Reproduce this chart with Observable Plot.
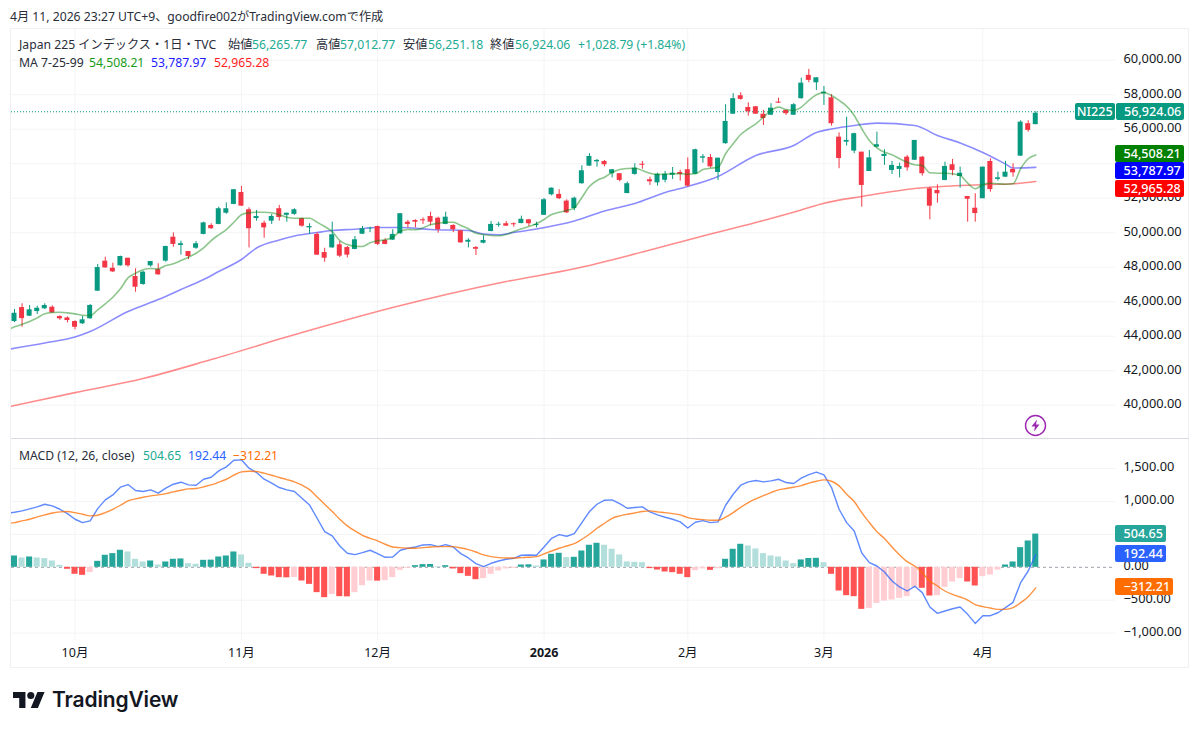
<!DOCTYPE html>
<html lang="ja">
<head>
<meta charset="utf-8">
<script src="https://cdn.jsdelivr.net/npm/d3@7"></script>
<script src="https://cdn.jsdelivr.net/npm/@observablehq/plot@0.6"></script>
<style>
html,body{margin:0;padding:0;background:#fff}
#page{position:relative;width:1200px;height:731px;overflow:hidden;background:#fff;color:#131722;
font-family:"Noto Sans","Noto Sans CJK JP",sans-serif;font-size:12.2px}
#page svg{display:block;overflow:visible}
.abs{position:absolute;white-space:nowrap;line-height:16px}
.tag{position:absolute;color:#fff;font-size:12.6px;line-height:17px;height:17px;text-align:left;padding-left:8.5px;box-sizing:border-box;border-radius:2px;white-space:nowrap;font-weight:500}
</style>
</head>
<body>
<div id="page"></div>
<script>
// ---- Price candles (index 0 = first visible session) ----
const openP = [
44850,45660,45160,45430,45590,45680,45140,45060,44850,44720,
45010,46610,48350,47940,48080,48520,47460,47000,48080,47860,
48350,49740,49260,48910,49100,49900,50420,50480,51130,51640,
52330,51330,50820,50550,50670,51390,51010,51060,50810,50280,
49900,48850,49120,49300,49140,49030,49910,50230,50360,49550,
49570,49940,50610,50710,50750,50940,50840,50480,50420,50110,
49450,49140,49390,50070,50430,50520,50520,50530,50750,50420,
51010,52200,52220,51830,51400,52840,53860,54110,54130,53420,
53420,52270,53380,53970,53070,52890,53040,53330,53490,53650,
53390,54320,54360,53490,55160,56870,57940,57260,57300,56870,
56810,57570,57090,56810,57770,59120,58690,58060,57820,55540,
55250,54730,54670,53550,54960,54420,53610,53670,54380,54200,
54380,52550,52450,53030,53940,53260,52100,51420,51970,54130,
53090,53220,53670,54440,56320,56265.77];
const highP = [
45550,45880,45780,45740,45880,45760,45180,45120,44890,45140,
45840,48160,48580,48230,48640,48520,47910,47770,48330,48200,
49220,49990,49510,48910,49490,50610,50520,51480,51730,52510,
52680,51440,51290,50670,51060,51580,51130,51390,50840,50520,
50010,49100,50610,49490,49200,49780,50360,50320,50380,49650,
50170,51100,50710,50750,50860,51190,50900,51190,50460,50130,
49650,49200,49820,50650,50610,50650,50570,50960,50770,50610,
51980,52600,52490,51910,52060,53880,54580,54250,54190,53650,
53420,52930,54000,54130,53220,53450,53550,53780,53620,54340,
54840,54530,54530,54320,57420,58060,58110,57530,57320,57090,
57480,57800,57100,57480,58960,59470,58980,58480,58000,55790,
56700,55770,54670,54770,55830,54810,54130,54030,54480,55350,
54420,52640,52780,54090,54250,53800,52100,52260,53800,54290,
53510,54130,54000,56490,56490,57012.77];
const lowP = [
44790,44520,45140,45260,45540,45330,44920,44770,44370,44680,
44980,46590,47940,47690,48060,48000,46550,46950,48000,47530,
48290,49160,48700,48440,49040,49880,50200,50460,51070,51620,
51520,49120,50670,49680,50480,50670,50610,51010,50320,49900,
48680,48290,49100,48560,48540,49010,49900,50010,49260,49300,
49550,49910,50280,50280,50480,50420,49970,50460,50010,49390,
49120,48680,49360,50050,50320,50360,50320,50520,50360,50280,
51000,52140,51920,51110,51270,52810,53840,53800,53820,53180,
52950,52260,53330,53680,52740,52700,52890,53080,52990,52640,
53380,54030,53740,53030,55130,56860,57680,56760,56860,56220,
56800,57490,56800,56800,57740,58690,58250,57380,56180,53710,
55020,54580,51480,53550,54920,53900,53380,53180,53570,54190,
53280,50750,51710,53010,53300,52580,50610,50610,51970,52350,
52990,53200,53220,54420,55830,56251.18];
const closeP = [
45330,45020,45530,45620,45780,45350,45010,44910,44520,44950,
45780,47980,47960,47730,48620,48080,46840,47710,48330,47560,
49200,49320,49360,48620,49360,50570,50230,51390,51390,52490,
51540,50230,50940,50280,50940,50880,51130,51330,50380,50360,
48700,48520,49880,48640,48700,49590,50230,50260,49320,49320,
49900,51100,50480,50610,50690,50610,50170,50900,50170,49410,
49560,49040,49550,50480,50490,50380,50460,50780,50520,50480,
51910,52580,51970,51150,52000,53590,54420,54190,53940,53650,
53030,52840,53740,53910,52950,53390,53390,53450,53380,52700,
54810,54400,53820,54320,56450,57770,57730,57010,56870,56620,
57220,57510,56900,57420,58670,58830,58980,58150,56320,54300,
55350,55740,52740,54340,55100,54540,53900,53840,53760,55350,
53420,51540,52260,53840,53610,53450,51940,51110,53800,52500,
53180,53510,53470,56410,55930,56924.06];

// ---- Moving averages; the short one and MACD start one session left of the pane ----
const ma7 = [
44327,44542,44692,44849,45063,45296,45371,45388,45354,45296,
45214,45197,45528,45876,46258,46746,47384,47650,47848,47923,
47906,48097,48196,48387,48578,48810,49123,49547,49878,50185,
50609,51038,51154,51188,51188,51154,51038,50898,50840,50840,
50840,50609,50359,50069,49547,49315,49216,49199,49413,49529,
49587,49738,50086,50185,50168,50284,50458,50550,50609,50609,
50417,50226,49970,49895,49837,49820,49895,50069,50226,50359,
50516,50765,51055,51188,51287,51444,52041,52679,53027,53218,
53491,53665,53723,53740,53607,53450,53375,53392,53416,53416,
53392,53416,53665,53740,53798,54576,55156,55695,56026,56315,
56698,57087,57278,57145,57087,57278,57667,57998,58114,57957,
57667,57336,56797,56026,55347,54924,54668,54518,54286,54088,
53938,53897,53474,53450,53450,53416,53317,52870,52546,52795,
52870,52836,52813,52836,53706,54286,54508.21];
const ma25Idx = [-1,4,8,10,15,19,22,25,27,30,32,35,37,40,42,45,48,51,55,60,62,64,66,69,74,78,82,86,89,93,98,103,106,108,111,114,119,122,125,128,131,132,135];
const ma25 = [43225,43602,43950,44269,45429,46125,46705,47285,47749,48445,49112,49576,49808,50011,50127,50202,50301,50301,50185,50127,49924,49878,50011,50214,50678,51258,51693,52331,52679,53259,54477,55057,55811,56014,56217,56350,56217,55637,55202,54651,53984,53752,53787.97];
const ma99Idx = [-1,8,17,26,38,50,65,74,83,92,99,104,107,112,119,125,129,132,135];
const ma99 = [39890,40731,41543,42645,44211,45661,47169,47906,48880,49924,50707,51316,51710,52099,52563,52737,52795,52836,52965.28];

// ---- MACD (12, 26, close) ----
const macdLine = [
821,837,857,887,918,958,933,882,816,730,
679,705,892,1024,1100,1217,1257,1166,1151,1176,
1126,1202,1262,1293,1252,1247,1338,1369,1465,1526,
1627,1633,1506,1440,1338,1278,1212,1176,1151,1049,
948,745,542,477,324,213,193,223,259,208,
152,157,259,289,309,340,345,314,345,309,
208,142,56,10,61,96,122,137,183,188,
183,309,441,497,472,512,679,847,958,1019,
1024,968,897,908,918,842,796,761,730,690,
598,684,710,679,690,943,1110,1247,1298,1318,
1298,1313,1338,1288,1273,1354,1409,1445,1404,1212,
882,679,553,218,71,20,-71,-208,-299,-360,
-289,-385,-603,-700,-664,-629,-603,-715,-852,-735,
-735,-690,-613,-532,-233,-56,192.44];
const signalLine = [
664,679,705,730,766,796,826,842,847,831,
806,781,791,831,882,943,1009,1039,1065,1085,
1100,1120,1146,1171,1191,1197,1222,1252,1293,1338,
1399,1450,1460,1455,1430,1399,1364,1333,1298,1247,
1181,1070,958,847,730,629,553,487,441,401,
350,309,299,289,289,299,309,314,314,314,
294,269,233,188,162,147,142,142,147,152,
162,203,248,289,324,360,426,502,593,669,
745,781,806,826,847,857,842,831,816,796,
755,735,725,715,715,761,831,913,984,1039,
1090,1136,1176,1197,1217,1242,1278,1308,1328,1308,
1237,1110,999,831,679,542,436,309,188,86,
20,-81,-208,-284,-360,-411,-451,-497,-568,-598,
-619,-639,-639,-613,-537,-446,-312.21];
const histValues = [
172,142,157,142,132,96,30,-30,-106,-122,
-81,91,183,208,259,233,122,81,96,35,
81,122,127,56,46,106,109,157,172,233,
188,61,-20,-106,-132,-157,-160,-155,-208,-259,
-385,-461,-411,-446,-449,-385,-279,-208,-210,-203,
-157,-46,-15,25,41,43,10,25,-25,-96,
-137,-188,-172,-106,-56,-25,-15,35,38,20,
112,198,213,147,152,248,335,365,335,274,
188,81,76,71,-20,-41,-71,-81,-106,-157,
-51,-25,-46,-20,122,274,350,324,279,208,
172,157,96,56,112,134,137,71,-106,-360,
-431,-446,-639,-624,-548,-512,-497,-472,-446,-309,
-319,-436,-431,-304,-223,-172,-223,-284,-142,-117,
-41,35,81,299,400,504.65];

// ---- Axes ----
const priceTicks = [40000,42000,44000,46000,48000,50000,52000,54000,56000,58000,60000];
const macdTicks = [-1000,-500,0,500,1000,1500];
const monthIdx = [8,30,48,70,89,107,128];
const monthLabels = ["10月","11月","12月","2026","2月","3月","4月"];

// ---- Readouts ----
const caption = "4月 11, 2026 23:27 UTC+9、goodfire002がTradingView.comで作成";
const seriesTitle = "Japan 225 インデックス・1日・TVC";
const ohlcLabels = ["始値","高値","安値","終値"];
const ohlcValues = ["56,265.77","57,012.77","56,251.18","56,924.06"];
const lastClose = 56924.06;
const maValues = [54508.21,53787.97,52965.28];
const macdValues = [504.65,192.44,-312.21];

const UP="#089981", DOWN="#F23645", GRID="#f3f4f7", TEXT="#131722";
const fontFamily='"Noto Sans","Noto Sans CJK JP",sans-serif';
const candles = closeP.map((c,i)=>({i,open:openP[i],high:highP[i],low:lowP[i],close:c,col:c>=openP[i]?UP:DOWN}));
const hist = histValues.map((v,i)=>{
  const p = i? histValues[i-1] : -Infinity;
  return {i,v,col: v>=0 ? (v>=p?"#26a69a":"#b2dfdb") : (v<p?"#ff5252":"#ffcdd2")};
});
const shift = (arr)=>arr.map((v,k)=>({i:k-1,v}));
const knots = (idx,arr)=>arr.map((v,k)=>({i:idx[k],v}));
const xOpts = {domain:[-0.3966,145.54],range:[11,1115]};
const w=0.33, bw=0.4;
const fmt = d3.format(",.2f");

const pricePlot = Plot.plot({
  width:1200,height:410,marginTop:0,marginBottom:0,marginLeft:11,marginRight:85,
  style:{fontFamily,fontSize:"12.5px",color:TEXT,background:"transparent"},
  x:{...xOpts,axis:null},
  y:{domain:[38070,61838],range:[410,0],axis:null},
  color:{type:"identity"},
  marks:[
    Plot.gridY(priceTicks,{stroke:GRID,strokeOpacity:1}),
    Plot.gridX(monthIdx,{stroke:GRID,strokeOpacity:1}),
    Plot.axisY(priceTicks,{anchor:"right",tickSize:0,tickPadding:8,label:null,tickFormat:fmt,color:TEXT,fontSize:12.8,dy:-1}),
    Plot.ruleY([lastClose],{stroke:UP,strokeDasharray:"1,2",strokeWidth:1,dy:-1.5}),
    Plot.line(knots(ma99Idx,ma99),{x:"i",y:"v",stroke:"#ff0000",strokeOpacity:.45,strokeWidth:1.6,curve:"monotone-x",clip:true}),
    Plot.line(knots(ma25Idx,ma25),{x:"i",y:"v",stroke:"#0000ff",strokeOpacity:.45,strokeWidth:1.6,curve:"monotone-x",clip:true}),
    Plot.ruleX(candles,{x:"i",y1:"low",y2:"high",stroke:"col",strokeWidth:1}),
    Plot.rect(candles,{x1:d=>d.i-w,x2:d=>d.i+w,y1:"open",y2:"close",fill:"col"}),
    Plot.line(shift(ma7),{x:"i",y:"v",stroke:"#008000",strokeOpacity:.45,strokeWidth:1.6,curve:"monotone-x",clip:true})
  ]
});

const monthRows = monthIdx.map((i,k)=>({i,t:monthLabels[k]}));
const macdPlot = Plot.plot({
  width:1200,height:240,marginTop:0,marginBottom:38,marginLeft:11,marginRight:85,
  style:{fontFamily,fontSize:"12.5px",color:TEXT,background:"transparent"},
  x:{...xOpts,axis:null},
  y:{domain:[-1112,1957],range:[202,0],axis:null},
  color:{type:"identity"},
  marks:[
    Plot.gridY(macdTicks.filter(d=>d!==0),{stroke:GRID,strokeOpacity:1}),
    Plot.gridX(monthIdx,{stroke:GRID,strokeOpacity:1}),
    Plot.axisY(macdTicks,{anchor:"right",tickSize:0,tickPadding:8,label:null,tickFormat:fmt,color:TEXT,fontSize:12.8,dy:-1.5}),
    Plot.ruleY([0],{stroke:"#9aa0ab",strokeDasharray:"3,3",strokeWidth:1}),
    Plot.rect(hist,{x1:d=>d.i-bw,x2:d=>d.i+bw,y1:0,y2:"v",fill:"col"}),
    Plot.line(shift(macdLine),{x:"i",y:"v",stroke:"#2962ff",strokeOpacity:.75,strokeWidth:1.4,clip:true}),
    Plot.line(shift(signalLine),{x:"i",y:"v",stroke:"#ff6d00",strokeOpacity:.75,strokeWidth:1.4,curve:"monotone-x",clip:true}),
    Plot.text(monthRows.filter(d=>d.t!=="2026"),{x:"i",text:"t",frameAnchor:"bottom",dy:16,fontSize:12.5,fill:TEXT}),
    Plot.text(monthRows.filter(d=>d.t==="2026"),{x:"i",text:"t",frameAnchor:"bottom",dy:16,fontSize:12.5,fontWeight:"bold",fill:TEXT})
  ]
});

const page = document.getElementById("page");
const PRICE_TOP=28, MACD_TOP=438;
function put(el,top){el.style.position="absolute";el.style.left="0";el.style.top=top+"px";page.appendChild(el);}
put(pricePlot,PRICE_TOP); put(macdPlot,MACD_TOP);

function txt(s,left,mid,color,extra){
  const d=document.createElement("div");d.className="abs";d.textContent=s;
  d.style.left=left+"px";d.style.top=(mid-8)+"px";if(color)d.style.color=color;
  if(extra)Object.assign(d.style,extra);page.appendChild(d);return d;
}
function box(l,t,w,h,css){const d=document.createElement("div");d.style.cssText=`position:absolute;left:${l}px;top:${t}px;width:${w}px;height:${h}px;${css}`;page.appendChild(d);}
function tag(s,left,top,width,bg){
  const d=document.createElement("div");d.className="tag";d.textContent=s;
  d.style.left=left+"px";d.style.top=top+"px";d.style.width=width+"px";d.style.background=bg;page.appendChild(d);return d;
}
// frame and pane separator
box(10,28,1179,640,"border:1px solid #eef0f3;box-sizing:border-box;pointer-events:none");
box(11,438,1178,1,"background:#d9dbe0");

// caption + legend
txt(caption,10,16.5,"#2a2e39");
txt(seriesTitle,19,45,"#2a2e39");
[[228,252],[316,340],[403,428],[490,515]].forEach(([a,b],k)=>{
  txt(ohlcLabels[k],a,45,"#2a2e39");txt(ohlcValues[k],b,45,"#22ab94");
});
txt("+1,028.79 (+1.84%)",578,45,"#22ab94");
txt("MA 7-25-99",19,63,"#2a2e39");
[["#179c17",89],["#1d1dff",151],["#ff1d1d",214]].forEach(([c,l],k)=>txt(fmt(maValues[k]),l,63,c));
txt("MACD (12, 26, close)",19,456,"#2a2e39");
[["#22ab94",143],["#2962ff",188],["#ff6d00",233]].forEach(([c,l],k)=>txt(fmt(macdValues[k]),l,456,c));

// price tags positioned through the scales
const yP = v=>pricePlot.scale("y").apply(v)+PRICE_TOP;
const yM = v=>macdPlot.scale("y").apply(v)+MACD_TOP;
const ni=tag("NI225",1075,yP(lastClose)-10,39.5,UP);ni.style.paddingLeft="0";ni.style.textAlign="center";
tag(fmt(lastClose),1115.5,yP(lastClose)-10,68.5,UP);
const ma0=yP(maValues[0])-9.5;
tag(fmt(maValues[0]),1115,ma0,69,"#008000");
tag(fmt(maValues[1]),1115,ma0+17.5,69,"#0000ff");
tag(fmt(maValues[2]),1115,ma0+35,69,"#ff0000");
tag(fmt(macdValues[0]),1115,yM(macdValues[0])-9,51,"#26a69a");
tag(fmt(macdValues[1]),1115,yM(macdValues[1])-9.5,51,"#2962ff");
tag(fmt(macdValues[2]),1115,yM(macdValues[2])-9,58,"#ff6d00");

// lightning badge
const badge=document.createElement("div");badge.className="abs";badge.style.left="1024px";badge.style.top="414px";
badge.innerHTML='<svg width="23" height="23" viewBox="0 0 23 23"><circle cx="11.5" cy="11.5" r="10" fill="#fff" stroke="#9c27b0" stroke-width="1.4"/><path d="M13 5.5 L7.5 12.5 L11 12.5 L10 17.5 L15.5 10.5 L12 10.5 Z" fill="#9c27b0"/></svg>';
page.appendChild(badge);

// brand
const logo=document.createElement("div");logo.className="abs";logo.style.left="13px";logo.style.top="687.5px";logo.style.lineHeight="0";
logo.innerHTML='<svg width="32" height="22" viewBox="0 0 36 24"><path d="M14 22H7V11H0V4h14v18zM28 22h-8l7.5-18h8L28 22z" fill="#131722"/><circle cx="20" cy="8" r="4" fill="#131722"/></svg>';
page.appendChild(logo);
txt("TradingView",52,700,"#131722",{fontFamily:'Inter,sans-serif',fontWeight:"600",fontSize:"21px",lineHeight:"16px",letterSpacing:"-0.15px"});
</script>
</body>
</html>
